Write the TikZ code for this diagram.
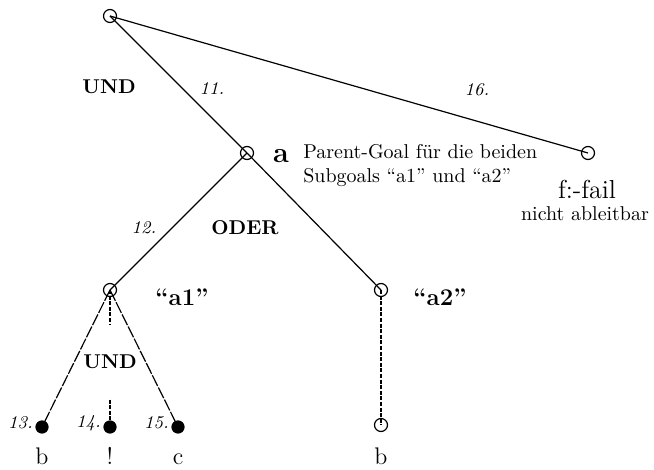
\documentclass[tikz,border=0pt]{standalone}
\usepackage{tikz}
\usetikzlibrary{positioning}

\tikzset{
  goal/.style={circle, draw, minimum size=6.5pt, inner sep=0pt},
  leaf/.style={circle, draw, fill=black, minimum size=6pt, inner sep=0pt},
  nr/.style={font=\small\itshape},
  junct/.style={font=\bfseries},
  subgoal/.style={font=\large\bfseries},
  lname/.style={font=\large, inner sep=0pt, text height=1.6ex, text depth=0pt},
  longdash/.style={dash pattern=on 6pt off 0.8pt},
  shortdash/.style={dash pattern=on 2pt off 0.8pt},
}

\begin{document}
\begin{tikzpicture}[x=0.5pt, y=-0.5pt, line width=0.6pt]
    \useasboundingbox (0,0) rectangle (654,470);

    % goals
    \node[goal] (root) at (110,16) {};
    \node[goal] (a) at (247,153) {};
    \node[goal] (fail) at (588,153) {};
    \node[goal] (a1) at (110,290) {};
    \node[goal] (a2) at (381,290) {};
    \node[leaf] (n13) at (42,427) {};
    \node[leaf] (n14) at (110,427) {};
    \node[leaf] (n15) at (178,427) {};
    \node[goal] (b2) at (381,425) {};

    % UND / ODER
    \node[junct] (und1) at (109,87) {UND};
    \node[junct] (oder) at (245,228) {ODER};
    \node[junct, inner ysep=15pt] (und2) at (110,362) {UND};

    \draw (root.center) -- (a.center);
    \draw (root.center) -- (fail.center);
    \draw (a.center) -- (a1.center);
    \draw (a.center) -- (a2.center);
    \draw[longdash] (a1.center) -- (n13.center);
    \draw[longdash] (a1.center) -- (n15.center);
    \draw[shortdash] (a1.center) -- (und2.north);
    \draw[shortdash] (und2.south) -- (n14.center);
    \draw[shortdash] (a2.center) -- (b2.center);

    % step numbers
    \node[nr] (s11) at (212,89) {11.};
    \node[nr] (s16) at (477,90) {16.};
    \node[nr] (s12) at (144,228) {12.};
    \node[nr, left=0pt of n13, inner sep=1pt, yshift=2pt] (s13) {13.};
    \node[nr, left=0pt of n14, inner sep=1pt, yshift=2pt] (s14) {14.};
    \node[nr, left=0pt of n15, inner sep=1pt, yshift=2pt] (s15) {15.};

    % names
    \node[font=\Large\bfseries] (la) at (281,156) {a};
    \node[anchor=west, align=left] (note) at (296,166) {Parent-Goal für die beiden\\Subgoals “a1” und “a2”};
    \node[font=\fontsize{13}{15}\selectfont] (lfail) at (587,189) {f:-fail};
    \node (nab) at (585,214) {nicht ableitbar};
    \node[subgoal] (la1) at (182,297) {“a1”};
    \node[subgoal] (la2) at (440,297) {“a2”};

    \node[lname, below=8.5pt of n13] (lb) {b};
    \node[lname, below=8.5pt of n14] (lex) {!};
    \node[lname, below=8.5pt of n15] (lc) {c};
    \node[lname, below=9.2pt of b2] (lb2) {b};
\end{tikzpicture}
\end{document}
